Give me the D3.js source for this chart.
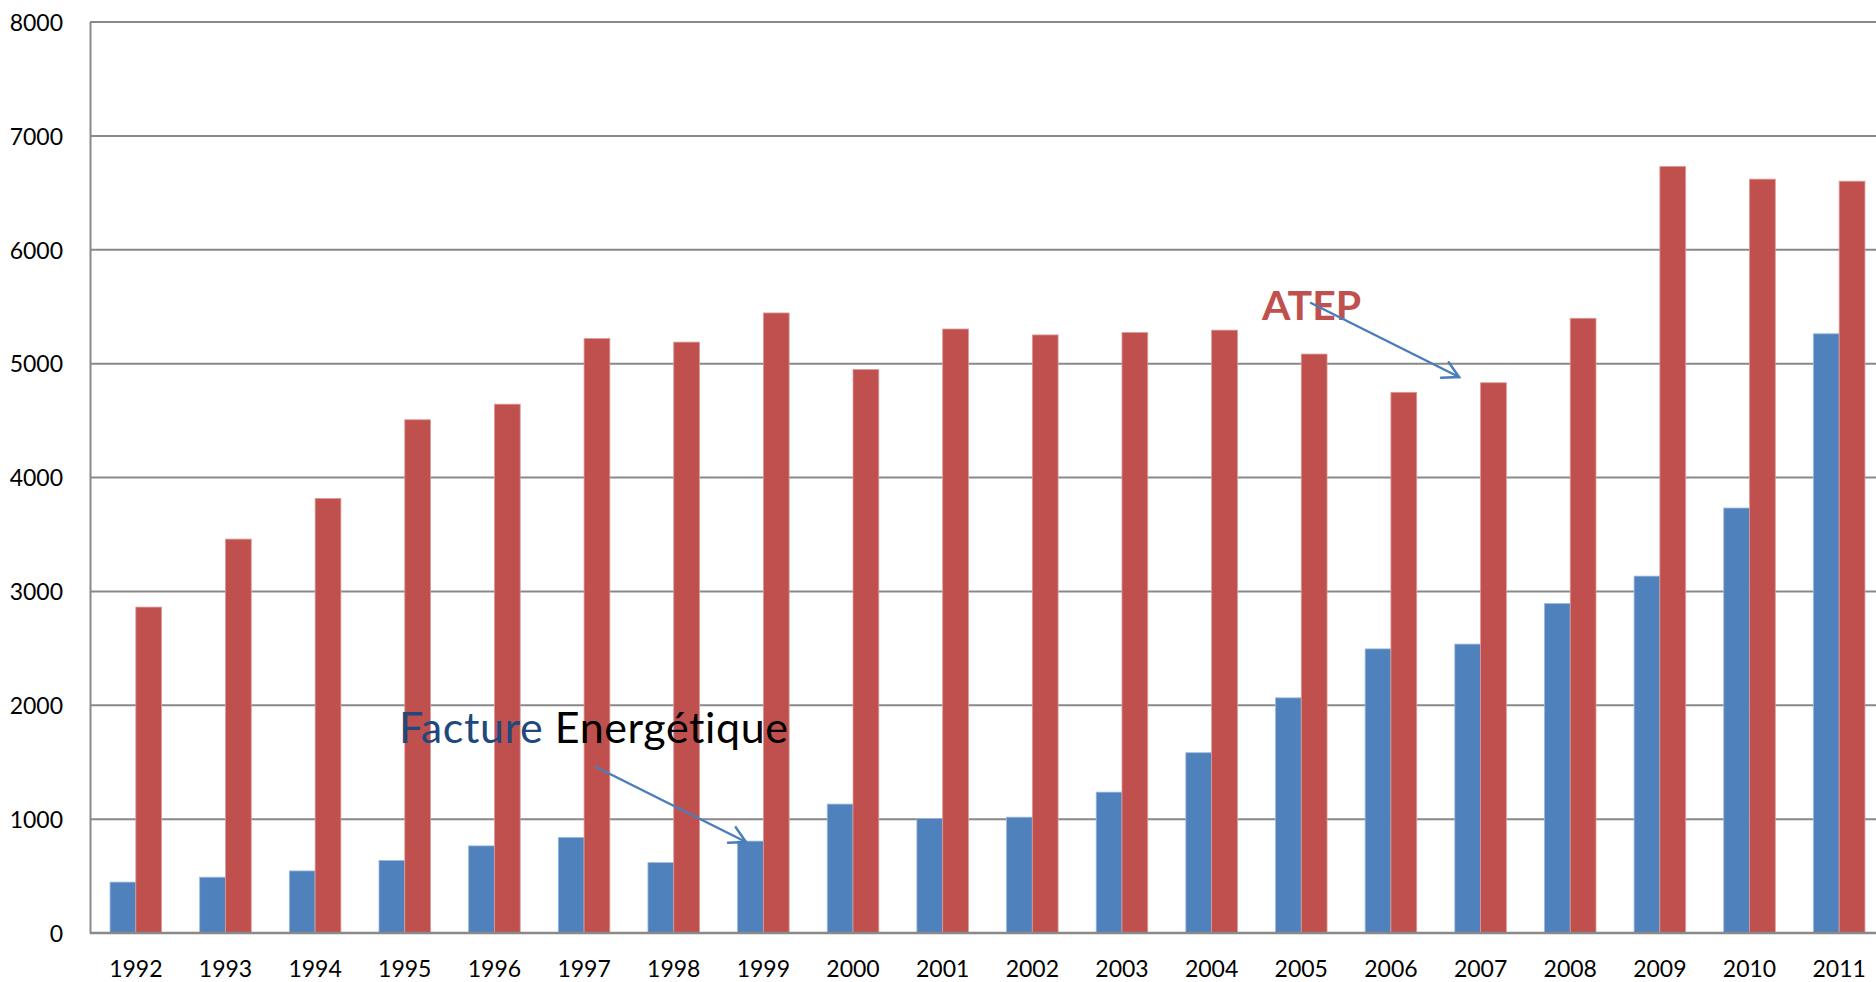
<!DOCTYPE html>
<html><head><meta charset="utf-8">
<script src="https://cdn.jsdelivr.net/npm/d3@7"></script>
<style>html,body{margin:0;padding:0;background:#fff;overflow:hidden}</style>
</head><body><svg id="c" width="1876" height="982"></svg>
<script>
const years = ["1992","1993","1994","1995","1996","1997","1998","1999","2000","2001","2002","2003","2004","2005","2006","2007","2008","2009","2010","2011"];
const facture = [447,490,545,637,765,839,618,807,1132,1006,1017,1237,1583,2065,2495,2537,2893,3134,3732,5262];
const atep = [2862,3459,3816,4507,4644,5220,5189,5445,4948,5304,5252,5273,5294,5084,4748,4832,5398,6731,6620,6602];
const yTicks = [0,1000,2000,3000,4000,5000,6000,7000,8000];
const seriesNames = ["Facture Energétique","ATEP"];
const colors = ["#4F81BD","#C0504D"];

(function(){
const svg = d3.select("#c");
const mLeft = 90, mRight = 1876, mTop = 22, mBottom = 933;
const font = "Lato, 'Open Sans', sans-serif";

const x = d3.scaleBand().domain(years).range([mLeft + 1, 1884]).paddingInner(0.425).paddingOuter(0.2125);
const xs = d3.scaleBand().domain([0,1]).range([0, x.bandwidth()]);
const y = d3.scaleLinear().domain([0, 8000]).range([mBottom, mTop]);

svg.append("g").selectAll("line").data(yTicks.filter(d=>d>0)).join("line")
  .attr("x1", mLeft).attr("x2", mRight).attr("y1", d=>y(d)).attr("y2", d=>y(d))
  .attr("stroke", "#898989").attr("stroke-width", 2);

const series = [facture, atep];
series.forEach((vals, si) => {
  svg.append("g").selectAll("rect").data(vals).join("rect")
    .attr("x", (d,i)=>x(years[i]) + xs(si))
    .attr("width", xs.bandwidth())
    .attr("y", d=>y(d)).attr("height", d=>y(0)-y(d))
    .attr("fill", colors[si])
    .attr("stroke", si===0 ? "#9bb8dc" : "#dc9a98").attr("stroke-width", 0.8);
});

const yAxis = d3.axisLeft(y).tickValues(yTicks).tickFormat(d3.format("d")).tickSize(0).tickPadding(27);
const gy = svg.append("g").attr("transform", `translate(${mLeft},0)`).call(yAxis);
gy.select(".domain").attr("stroke", "#898989").attr("stroke-width", 2);
gy.selectAll("text").attr("font-family", font).attr("font-size", 23).attr("fill", "#000").attr("dy", "0.36em");

const xAxis = d3.axisBottom(x).tickSize(0).tickPadding(28);
const gx = svg.append("g").attr("transform", `translate(0,${mBottom})`).call(xAxis);
gx.select(".domain").attr("stroke", "#898989").attr("stroke-width", 2.5).attr("d", `M${mLeft},0H${mRight}`);
gx.selectAll("text").attr("font-family", font).attr("font-size", 23).attr("fill", "#000").attr("dy", "0.71em");

const t1 = svg.append("text").attr("x", 399).attr("y", 743).attr("font-family", font).attr("font-size", 43).attr("letter-spacing", 0.6);
t1.append("tspan").attr("fill", "#1F497D").text("Facture");
t1.append("tspan").attr("fill", "#000").text(" Energétique");

svg.append("text").attr("x", 1262).attr("y", 320).attr("font-family", font).attr("font-weight", "bold")
  .attr("font-size", 41).attr("fill", "#C0504D").text("ATEP");

function arrow(x1,y1,x2,y2){
  const g = svg.append("g").attr("stroke", "#4A7EBB").attr("stroke-width", 2.5).attr("fill","none").attr("stroke-linecap","round");
  g.append("line").attr("x1",x1).attr("y1",y1).attr("x2",x2).attr("y2",y2);
  const a = Math.atan2(y2-y1, x2-x1), L = 18, s = 0.5;
  g.append("path").attr("d", `M${x2-L*Math.cos(a-s)},${y2-L*Math.sin(a-s)}L${x2},${y2}L${x2-L*Math.cos(a+s)},${y2-L*Math.sin(a+s)}`);
}
arrow(596, 767, 746, 842);
arrow(1311, 303, 1459, 377);
})();
</script></body></html>
